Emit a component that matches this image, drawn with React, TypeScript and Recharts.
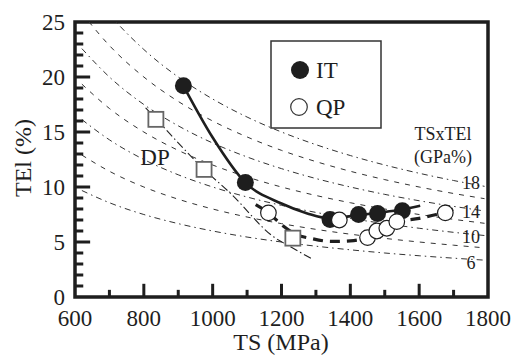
import { ComposedChart, Line, Scatter, XAxis, YAxis, ReferenceArea, ReferenceLine } from 'recharts';

// axis ticks
const tsTicks = [600, 700, 800, 900, 1000, 1100, 1200, 1300, 1400, 1500, 1600, 1700, 1800];
const telTicks = [0, 1, 2, 3, 4, 5, 6, 7, 8, 9, 10, 11, 12, 13, 14, 15, 16, 17, 18, 19, 20, 21, 22, 23, 24, 25];

// measured points
const itTS = [915, 1095, 1341, 1424, 1479, 1551];
const itTEl = [19.2, 10.4, 7.05, 7.5, 7.6, 7.85];
const qpTS = [1162, 1368, 1450, 1477, 1506, 1535, 1676];
const qpTEl = [7.65, 7.0, 5.4, 6.0, 6.25, 6.85, 7.65];
const dpTS = [835, 975, 1233];
const dpTEl = [16.15, 11.6, 5.35];

// trend curves
const itFitTS = [915, 1000, 1095, 1200, 1275, 1340, 1424, 1479, 1551, 1603];
const itFitTEl = [19.2, 14.5, 10.4, 8.5, 7.6, 7.15, 7.45, 7.65, 7.95, 8.3];
const qpFitTS = [1125, 1160, 1205, 1235, 1290, 1345, 1400, 1450, 1478, 1506, 1535, 1600, 1650, 1680, 1705];
const qpFitTEl = [8.4, 7.7, 6.45, 5.8, 5.3, 5.05, 5.1, 5.45, 5.95, 6.3, 6.8, 7.15, 7.5, 7.75, 8.1];
const dpFitTS = [805, 835, 975, 1051, 1178, 1230, 1292];
const dpFitTEl = [17.2, 16.2, 11.6, 9.45, 5.45, 4.5, 3.4];

// TS x TEl iso-lines (GPa%)
const isoTS = [620, 700, 800, 900, 1000, 1100, 1200, 1300, 1400, 1500, 1600, 1700, 1790];
const iso6 = [9.68, 8.57, 7.5, 6.67, 6.0, 5.45, 5.0, 4.62, 4.29, 4.0, 3.75, 3.53, 3.35];
const iso8 = [12.9, 11.43, 10.0, 8.89, 8.0, 7.27, 6.67, 6.15, 5.71, 5.33, 5.0, 4.71, 4.47];
const iso10 = [16.13, 14.29, 12.5, 11.11, 10.0, 9.09, 8.33, 7.69, 7.14, 6.67, 6.25, 5.88, 5.59];
const iso12 = [19.35, 17.14, 15.0, 13.33, 12.0, 10.91, 10.0, 9.23, 8.57, 8.0, 7.5, 7.06, 6.7];
const iso14 = [22.58, 20.0, 17.5, 15.56, 14.0, 12.73, 11.67, 10.77, 10.0, 9.33, 8.75, 8.24, 7.82];
const iso16 = [25.81, 22.86, 20.0, 17.78, 16.0, 14.55, 13.33, 12.31, 11.43, 10.67, 10.0, 9.41, 8.94];
const iso18 = [29.03, 25.71, 22.5, 20.0, 18.0, 16.36, 15.0, 13.85, 12.86, 12.0, 11.25, 10.59, 10.06];
const isoLabels = ['18', '14', '10', '6'];
const seriesNames = ['IT', 'QP'];

const FONT = "'Liberation Serif', 'Times New Roman', serif";
const INK = '#1e1e1e';

const pts = (xs: number[], ys: number[]) => xs.map((ts, i) => ({ ts, tel: ys[i] }));

const isoCurves = [
  { key: 'i6', vals: iso6, dash: '6 4 1.5 4' },
  { key: 'i8', vals: iso8, dash: '5 6' },
  { key: 'i10', vals: iso10, dash: '6 4 1.5 4' },
  { key: 'i12', vals: iso12, dash: '5 6' },
  { key: 'i14', vals: iso14, dash: '6 4 1.5 4' },
  { key: 'i16', vals: iso16, dash: '5 6' },
  { key: 'i18', vals: iso18, dash: '6 4 1.5 4' },
];

// labelled ticks every 200 MPa / 5 %, inward marks every 100 MPa / 1 %
const xMajor = tsTicks.filter((v) => v % 200 === 0);
const yMajor = telTicks.filter((v) => v % 5 === 0);
const xInner = tsTicks.slice(1, -1);
const yInner = telTicks.slice(1, -1);

const tickFont = { fontFamily: FONT, fontSize: 23, fill: INK };

const filledDot = (p: any) => <circle cx={p.cx} cy={p.cy} r={8.5} fill={INK} />;
const openDot = (p: any) => <circle cx={p.cx} cy={p.cy} r={7.8} fill="#fff" stroke={INK} strokeWidth={1.2} />;
const openSquare = (p: any) => (
  <rect x={p.cx - 7.5} y={p.cy - 7.5} width={15} height={15} fill="#fff" stroke="#666" strokeWidth={1.8} />
);

export default function App() {
  return (
    <div style={{ position: 'relative', width: 517, height: 356 }}>
      <style>{'body{margin:0}'}</style>
      <ComposedChart width={517} height={356} margin={{ top: 22, right: 29, bottom: 0, left: 20 }}>
        <XAxis
          type="number"
          dataKey="ts"
          domain={[600, 1800]}
          ticks={xMajor}
          interval={0}
          axisLine={false}
          tickLine={false}
          tickSize={0}
          tickMargin={13}
          height={59}
          tick={tickFont}
          allowDataOverflow
        />
        <YAxis
          type="number"
          dataKey="tel"
          domain={[0, 25]}
          ticks={yMajor}
          interval={0}
          axisLine={false}
          tickLine={false}
          tickSize={0}
          tickMargin={10}
          width={55}
          tick={tickFont}
          allowDataOverflow
        />
        {isoCurves.map((c) => (
          <Line
            key={c.key}
            data={pts(isoTS, c.vals)}
            dataKey="tel"
            type="monotone"
            stroke="#333"
            strokeWidth={1}
            strokeDasharray={c.dash}
            dot={false}
            isAnimationActive={false}
          />
        ))}
        <Line data={pts(dpFitTS, dpFitTEl)} dataKey="tel" type="monotone" stroke="#222" strokeWidth={1.1}
          strokeDasharray="8 3 1.5 3" dot={false} isAnimationActive={false} />
        <Line data={pts(itFitTS, itFitTEl)} dataKey="tel" type="monotone" stroke={INK} strokeWidth={2.6}
          dot={false} isAnimationActive={false} />
        <Line data={pts(qpFitTS, qpFitTEl)} dataKey="tel" type="monotone" stroke={INK} strokeWidth={3.2}
          strokeDasharray="10 7" dot={false} isAnimationActive={false} />
        <Scatter data={pts(dpTS, dpTEl)} dataKey="tel" shape={openSquare} isAnimationActive={false} />
        <Scatter data={pts(itTS, itTEl)} dataKey="tel" shape={filledDot} isAnimationActive={false} />
        <Scatter data={pts(qpTS, qpTEl)} dataKey="tel" shape={openDot} isAnimationActive={false} />
        {xInner.map((v) => (
          <ReferenceLine key={`xt${v}`} ifOverflow="visible" stroke={INK} strokeWidth={3}
            segment={[{ x: v, y: 0 }, { x: v, y: v % 200 === 0 ? 1.2 : 0.65 }]} />
        ))}
        {yInner.map((v) => (
          <ReferenceLine key={`yt${v}`} ifOverflow="visible" stroke={INK} strokeWidth={3}
            segment={[{ x: 600, y: v }, { x: v % 5 === 0 ? 644 : 624, y: v }]} />
        ))}
        <ReferenceArea x1={600} x2={1800} y1={0} y2={25} fill="none" fillOpacity={0} stroke={INK} strokeWidth={3.5} />
      </ComposedChart>
      <svg width={517} height={356} style={{ position: 'absolute', left: 0, top: 0, pointerEvents: 'none' }}
        fontFamily={FONT} fill={INK}>
        <text transform="translate(31,158) rotate(-90)" textAnchor="middle" fontSize={24}>TEl (%)</text>
        <text x={281} y={350} textAnchor="middle" fontSize={24}>TS (MPa)</text>
        <rect x={271} y={41} width={110} height={87} fill="#fff" stroke="#333" strokeWidth={1.5} />
        <circle cx={300} cy={70} r={9} fill={INK} />
        <text x={316} y={78} fontSize={23}>{seriesNames[0]}</text>
        <circle cx={299} cy={107} r={8.3} fill="#fff" stroke="#333" strokeWidth={1.2} />
        <text x={316} y={115} fontSize={23}>{seriesNames[1]}</text>
        <text x={155} y={165} textAnchor="middle" fontSize={23}>DP</text>
        <text x={443} y={140} textAnchor="middle" fontSize={18}>TSxTEl</text>
        <text x={443} y={163} textAnchor="middle" fontSize={18}>(GPa%)</text>
        <text x={471} y={189} textAnchor="middle" fontSize={18}>{isoLabels[0]}</text>
        <text x={471} y={218} textAnchor="middle" fontSize={18}>{isoLabels[1]}</text>
        <text x={471} y={243} textAnchor="middle" fontSize={18}>{isoLabels[2]}</text>
        <text x={471} y={269} textAnchor="middle" fontSize={18}>{isoLabels[3]}</text>
      </svg>
    </div>
  );
}
